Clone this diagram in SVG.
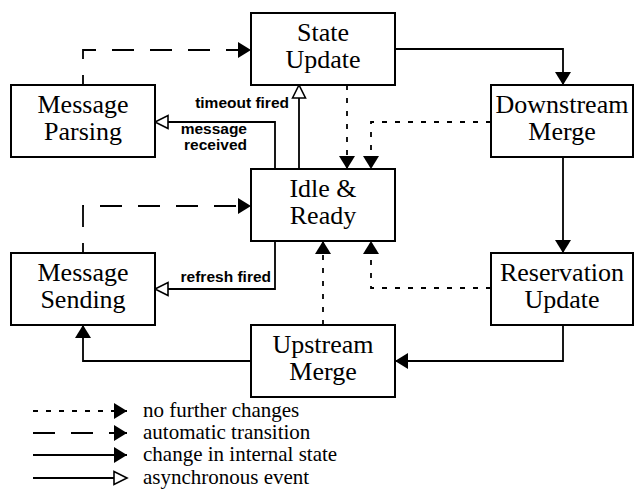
<svg xmlns="http://www.w3.org/2000/svg" width="634" height="491" viewBox="0 0 634 491">
<style>
.box{fill:#fff;stroke:#000;stroke-width:2}
.lbl{font-family:"Liberation Serif","Times New Roman",serif;font-size:26px;text-anchor:middle;fill:#000}
.ev{font-family:"Liberation Sans",Arial,sans-serif;font-size:15.5px;font-weight:bold;fill:#000}
.leg{font-family:"Liberation Serif","Times New Roman",serif;font-size:21px;fill:#000}
.c{fill:none;stroke:#000;stroke-width:1.8}
.solid{marker-end:url(#fa)}
.dash{stroke-dasharray:22 16;marker-end:url(#fa)}
.dot{stroke-dasharray:5 8;marker-end:url(#fa)}
.async{marker-end:url(#ha)}
</style>
<defs>
<marker id="fa" markerUnits="userSpaceOnUse" markerWidth="14" markerHeight="16" refX="13" refY="8" orient="auto" viewBox="0 0 14 16">
<path d="M0,0 L13,8 L0,16 z" fill="#000" stroke="none"/>
</marker>
<marker id="ha" markerUnits="userSpaceOnUse" markerWidth="16" markerHeight="16" refX="14" refY="7.5" orient="auto" viewBox="0 0 16 15">
<path d="M1,1 L14,7.5 L1,14 z" fill="#fff" stroke="#000" stroke-width="1.6" stroke-dasharray="none"/>
</marker>
</defs>

<g id="connectors">
<path class="c dash" stroke-dashoffset="12" d="M83,85 V50 H251"/>
<path class="c dash" stroke-dashoffset="12" d="M83,253 V206 H251"/>
<path class="c solid" d="M395,49 H563 V85"/>
<path class="c solid" d="M563,157 V253"/>
<path class="c solid" d="M563,325 V361 H395"/>
<path class="c solid" d="M251,361 H83 V325"/>
<path class="c dot" d="M347,85 V169"/>
<path class="c dot" d="M491,122 H371 V169"/>
<path class="c dot" d="M323,325 V241"/>
<path class="c dot" d="M491,288 H371 V241"/>
<path class="c async" d="M299,169 V85"/>
<path class="c async" d="M275,169 V122 H155"/>
<path class="c async" d="M275,241 V289 H155"/>
<text class="ev" x="289" y="108" text-anchor="end">timeout fired</text>
<text class="ev" x="247" y="134" text-anchor="end">message</text>
<text class="ev" x="247" y="150" text-anchor="end">received</text>
<text class="ev" x="271" y="282" text-anchor="end">refresh fired</text>
</g>

<g id="state-update"><rect class="box" x="251" y="13" width="144" height="72"/><text class="lbl" x="323" y="41">State</text><text class="lbl" x="323" y="68">Update</text></g>
<g id="message-parsing"><rect class="box" x="11" y="85" width="144" height="72"/><text class="lbl" x="83" y="113">Message</text><text class="lbl" x="83" y="140">Parsing</text></g>
<g id="downstream-merge"><rect class="box" x="491" y="85" width="142" height="72"/><text class="lbl" x="562" y="113">Downstream</text><text class="lbl" x="562" y="140">Merge</text></g>
<g id="idle-ready"><rect class="box" x="251" y="169" width="144" height="72"/><text class="lbl" x="323" y="197">Idle &amp;</text><text class="lbl" x="323" y="224">Ready</text></g>
<g id="message-sending"><rect class="box" x="11" y="253" width="144" height="72"/><text class="lbl" x="83" y="281">Message</text><text class="lbl" x="83" y="308">Sending</text></g>
<g id="reservation-update"><rect class="box" x="491" y="253" width="142" height="72"/><text class="lbl" x="562" y="281">Reservation</text><text class="lbl" x="562" y="308">Update</text></g>
<g id="upstream-merge"><rect class="box" x="251" y="325" width="144" height="72"/><text class="lbl" x="323" y="353">Upstream</text><text class="lbl" x="323" y="380">Merge</text></g>

<g id="legend">
<path class="c dot" stroke-dasharray="4 11" d="M33,411 H127"/>
<path class="c dash" stroke-dasharray="12 18" d="M33,433 H127"/>
<path class="c solid" d="M33,455 H127"/>
<path class="c async" d="M33,478 H127"/>
<text class="leg" x="143" y="417">no further changes</text>
<text class="leg" x="143" y="439">automatic transition</text>
<text class="leg" x="143" y="461">change in internal state</text>
<text class="leg" x="143" y="484">asynchronous event</text>
</g>
</svg>
